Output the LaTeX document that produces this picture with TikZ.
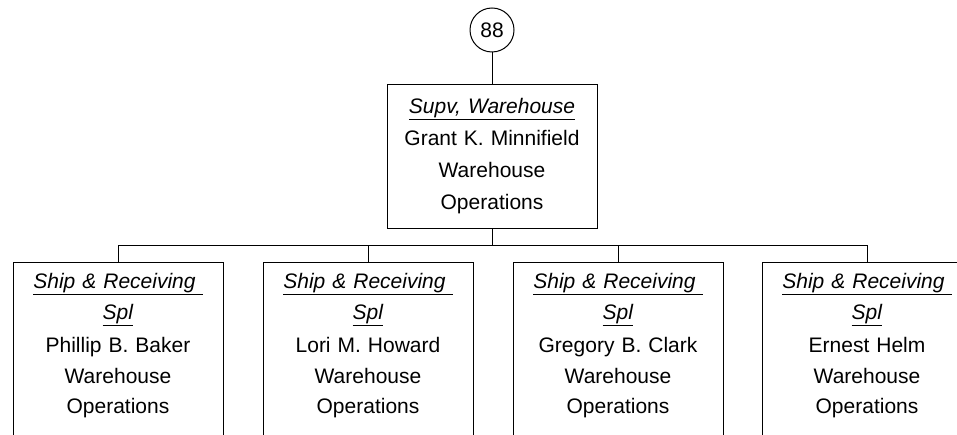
\documentclass[tikz,border=0pt]{standalone}
\usepackage{fontspec}
\setmainfont{Liberation Sans}
\usetikzlibrary{positioning,shapes.geometric}
\newcommand{\Ttl}[1]{\underline{\textit{#1}}}

\begin{document}
\begin{tikzpicture}[x=1pt,y=1pt,line width=1pt,
    box/.style={draw, anchor=north, text width=188pt, align=center,
      minimum width=210pt, inner xsep=11pt, inner ysep=11pt,
      font=\fontsize{21}{32}\selectfont},
    shipbox/.style={box, font=\fontsize{21}{30.5}\selectfont},
    tag/.style={draw, circle, minimum size=44pt,
      inner sep=0pt, font=\fontsize{21}{25}\selectfont}]
  \clip (0,0) rectangle (957,-435);
  \node[tag] (n88) at (492,-30) {88};
  \node[box, minimum height=144pt] (supv) at (492,-84)
    {\Ttl{Supv, Warehouse}\\Grant K. Minnifield\\Warehouse\\Operations};
  % lower row, boxes run past the bottom edge
  \node[shipbox] (ship1) at (118,-262)
    {\Ttl{Ship \& Receiving\ }\\\Ttl{Spl}\\[3pt]Phillip B. Baker\\Warehouse\\Operations\\[60pt]\mbox{}};
  \node[shipbox] (ship2) at (368,-262)
    {\Ttl{Ship \& Receiving\ }\\\Ttl{Spl}\\[3pt]Lori M. Howard\\Warehouse\\Operations\\[60pt]\mbox{}};
  \node[shipbox] (ship3) at (618,-262)
    {\Ttl{Ship \& Receiving\ }\\\Ttl{Spl}\\[3pt]Gregory B. Clark\\Warehouse\\Operations\\[60pt]\mbox{}};
  \node[shipbox] (ship4) at (867,-262)
    {\Ttl{Ship \& Receiving\ }\\\Ttl{Spl}\\[3pt]Ernest Helm\\Warehouse\\Operations\\[60pt]\mbox{}};
  \draw (n88) -- (supv);
  \coordinate[below=17pt of supv.south] (bus);
  \foreach \b in {ship1,ship2,ship3,ship4}
    \draw (supv.south) -- (bus) -| (\b.north);
\end{tikzpicture}
\end{document}
